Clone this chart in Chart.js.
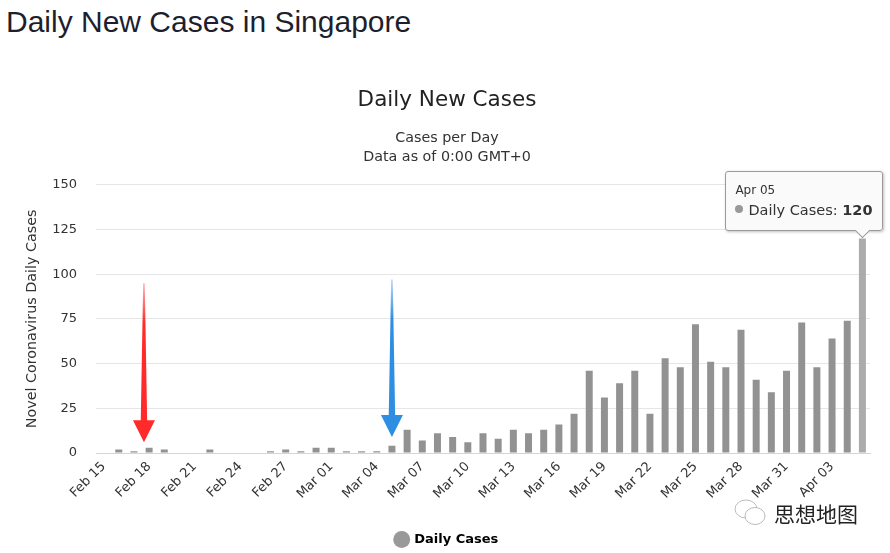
<!DOCTYPE html>
<html>
<head>
<meta charset="utf-8">
<script src="https://cdn.jsdelivr.net/npm/chart.js@4"></script>
<style>
  html, body { margin: 0; padding: 0; background: #fff; }
  body { width: 890px; height: 553px; position: relative; overflow: hidden; }
  h1 {
    position: absolute; left: 6px; top: 4px; margin: 0;
    font: 30px/36px "Liberation Sans", Arial, sans-serif; color: #1d1f2e; font-weight: normal;
  }
  .chart-wrap { position: absolute; left: 0; top: 0; width: 890px; height: 553px; }
  #tip {
    position: absolute; display: none; pointer-events: none;
    background: rgba(250,250,250,0.95); border: 1px solid #9a9a9a; border-radius: 3px;
    box-shadow: 1px 1px 3px rgba(0,0,0,0.25);
    font-family: "DejaVu Sans", sans-serif; color: #333; padding: 10px 9px 10px 9px;
  }
  #tip .t { font-size: 12px; line-height: 16px; margin-bottom: 2px; }
  #tip .b { font-size: 14.5px; line-height: 20px; white-space: nowrap; }
  #tip .b i { display: inline-block; width: 8px; height: 8px; border-radius: 50%; background: #999; margin-right: 5px; vertical-align: 2px; }
  #tip .caret {
    position: absolute; width: 10px; height: 10px; background: rgba(250,250,250,1);
    border-right: 1px solid #9a9a9a; border-bottom: 1px solid #9a9a9a; transform: rotate(45deg);
  }
  .mark { position: absolute; left: 733px; top: 498px; font: 21px "Noto Sans CJK SC", sans-serif; color: #222;
    text-shadow: 1px 1px 0 #fff, -1px -1px 0 #fff; }
  .mark svg { vertical-align: -6px; margin-right: 5px; }
</style>
</head>
<body>
<h1>Daily New Cases in Singapore</h1>
<div class="chart-wrap"><canvas id="c" width="890" height="553"></canvas></div>
<div id="tip"><div class="t"></div><div class="b"></div><div class="caret"></div></div>
<div class="mark"><svg width="36" height="30" viewBox="0 0 36 30"><ellipse cx="13" cy="11" rx="11" ry="9" fill="#fff" stroke="#bbb"/><ellipse cx="22" cy="18" rx="10" ry="8.5" fill="#fff" stroke="#bbb"/></svg>思想地图</div>
<script>
const categories = [
  'Feb 15', 'Feb 16', 'Feb 17', 'Feb 18', 'Feb 19', 'Feb 20', 'Feb 21', 'Feb 22', 'Feb 23', 'Feb 24',
  'Feb 25', 'Feb 26', 'Feb 27', 'Feb 28', 'Feb 29', 'Mar 01', 'Mar 02', 'Mar 03', 'Mar 04', 'Mar 05',
  'Mar 06', 'Mar 07', 'Mar 08', 'Mar 09', 'Mar 10', 'Mar 11', 'Mar 12', 'Mar 13', 'Mar 14', 'Mar 15',
  'Mar 16', 'Mar 17', 'Mar 18', 'Mar 19', 'Mar 20', 'Mar 21', 'Mar 22', 'Mar 23', 'Mar 24', 'Mar 25',
  'Mar 26', 'Mar 27', 'Mar 28', 'Mar 29', 'Mar 30', 'Mar 31', 'Apr 01', 'Apr 02', 'Apr 03', 'Apr 04',
  'Apr 05'
];
const dailyCases = [
  0, 2, 1, 3, 2, 0, 0, 2, 0, 0,
  0, 1, 2, 1, 3, 3, 1, 1, 1, 4,
  13, 7, 11, 9, 6, 11, 8, 13, 11, 13,
  16, 22, 46, 31, 39, 46, 22, 53, 48, 72,
  51, 48, 69, 41, 34, 46, 73, 48, 64, 74,
  120
];
const yTicks = [0, 25, 50, 75, 100, 125, 150];
const highlightIndex = 50;

// arrows drawn on top of the bars (position on category axis, top value, tip value)
const arrowAt = [2.66, 19];
const arrowTop = [95, 97];
const arrowTip = [6, 9];
const arrowColors = ['#ff2b2b', '#2e8fe2'];

const font = '"DejaVu Sans", sans-serif';

const arrowPlugin = {
  id: 'arrows',
  afterDatasetsDraw(chart) {
    const { ctx, scales: { x, y } } = chart;
    arrowAt.forEach((pos, i) => {
      const cx = x.getPixelForValue(pos);
      const yTop = y.getPixelForValue(arrowTop[i]);
      const yTip = y.getPixelForValue(arrowTip[i]);
      const headH = 22, headW = 11;
      const yHead = yTip - headH;
      ctx.save();
      const g = ctx.createLinearGradient(0, yTop, 0, yTip);
      g.addColorStop(0, arrowColors[i] + '55');
      g.addColorStop(0.25, arrowColors[i]);
      g.addColorStop(1, arrowColors[i]);
      ctx.fillStyle = g;
      ctx.beginPath();
      ctx.moveTo(cx - 0.8, yTop);
      ctx.lineTo(cx + 0.8, yTop);
      ctx.lineTo(cx + 3.2, yHead);
      ctx.lineTo(cx + headW, yHead);
      ctx.lineTo(cx, yTip);
      ctx.lineTo(cx - headW, yHead);
      ctx.lineTo(cx - 3.2, yHead);
      ctx.closePath();
      ctx.fill();
      ctx.restore();
    });
  }
};

function externalTip(context) {
  const tip = document.getElementById('tip');
  const model = context.tooltip;
  if (!model || model.opacity === 0 || !model.dataPoints || !model.dataPoints.length) {
    tip.style.display = 'none';
    return;
  }
  const dp = model.dataPoints[0];
  tip.querySelector('.t').textContent = dp.label;
  tip.querySelector('.b').innerHTML = '<i></i>Daily Cases: <b>' + dp.raw + '</b>';
  tip.style.display = 'block';
  const w = tip.offsetWidth, h = tip.offsetHeight;
  const left = model.caretX + 20 - w;
  const top = model.caretY - 7 - h;
  tip.style.left = left + 'px';
  tip.style.top = top + 'px';
  const caret = tip.querySelector('.caret');
  caret.style.left = (model.caretX - left - 6) + 'px';
  caret.style.top = (h - 7) + 'px';
}

const chart = new Chart(document.getElementById('c'), {
  type: 'bar',
  data: {
    labels: categories,
    datasets: [{
      label: 'Daily Cases',
      data: dailyCases,
      backgroundColor: '#929292',
      hoverBackgroundColor: '#ababab',
      borderWidth: 0,
      barPercentage: 0.46,
      categoryPercentage: 1
    }]
  },
  plugins: [arrowPlugin],
  options: {
    responsive: false,
    animation: false,
    events: [],
    layout: { padding: { left: 24, right: 20, top: 0, bottom: -3 } },
    scales: {
      x: {
        grid: { display: false, drawTicks: false },
        border: { color: '#ccd6eb' },
        afterFit: (axis) => { axis.height += 20; },
        ticks: {
          autoSkip: false,
          minRotation: 45,
          maxRotation: 45,
          padding: 6,
          color: '#333',
          font: { family: font, size: 13 },
          callback: (v, i) => (i % 3 === 0 ? categories[i] : '')
        }
      },
      y: {
        min: 0,
        max: 150,
        afterBuildTicks: (axis) => { axis.ticks = yTicks.map(v => ({ value: v })); },
        afterFit: (axis) => { axis.width = 72; },
        grid: { color: '#e6e6e6', drawTicks: false },
        border: { display: false },
        ticks: { padding: 19, color: '#333', font: { family: font, size: 13 } },
        title: {
          display: true,
          text: 'Novel Coronavirus Daily Cases',
          color: '#333',
          font: { family: font, size: 14.3 },
          padding: { top: 0, bottom: 0 }
        }
      }
    },
    plugins: {
      title: {
        display: true,
        text: 'Daily New Cases',
        color: '#222',
        font: { family: font, size: 21.5, weight: 'normal' },
        padding: { top: 88, bottom: 15 }
      },
      subtitle: {
        display: true,
        text: ['Cases per Day', 'Data as of 0:00 GMT+0'],
        color: '#333',
        font: { family: font, size: 14.3, lineHeight: 1.33 },
        padding: { top: 0, bottom: 18 }
      },
      legend: {
        position: 'bottom',
        labels: {
          usePointStyle: true,
          pointStyle: 'circle',
          boxWidth: 12,
          boxHeight: 12,
          padding: 5,
          color: '#222',
          font: { family: font, size: 13, weight: 'bold' },
          generateLabels: () => [{
            text: 'Daily Cases',
            fillStyle: '#999',
            strokeStyle: '#999',
            lineWidth: 0,
            pointStyle: 'circle',
            datasetIndex: 0
          }]
        }
      },
      tooltip: { enabled: false, external: externalTip }
    }
  }
});

const active = [{ datasetIndex: 0, index: highlightIndex }];
chart.setActiveElements(active);
const bar = chart.getDatasetMeta(0).data[highlightIndex];
chart.tooltip.setActiveElements(active, { x: bar.x, y: bar.y });
chart.update();
</script>
</body>
</html>
